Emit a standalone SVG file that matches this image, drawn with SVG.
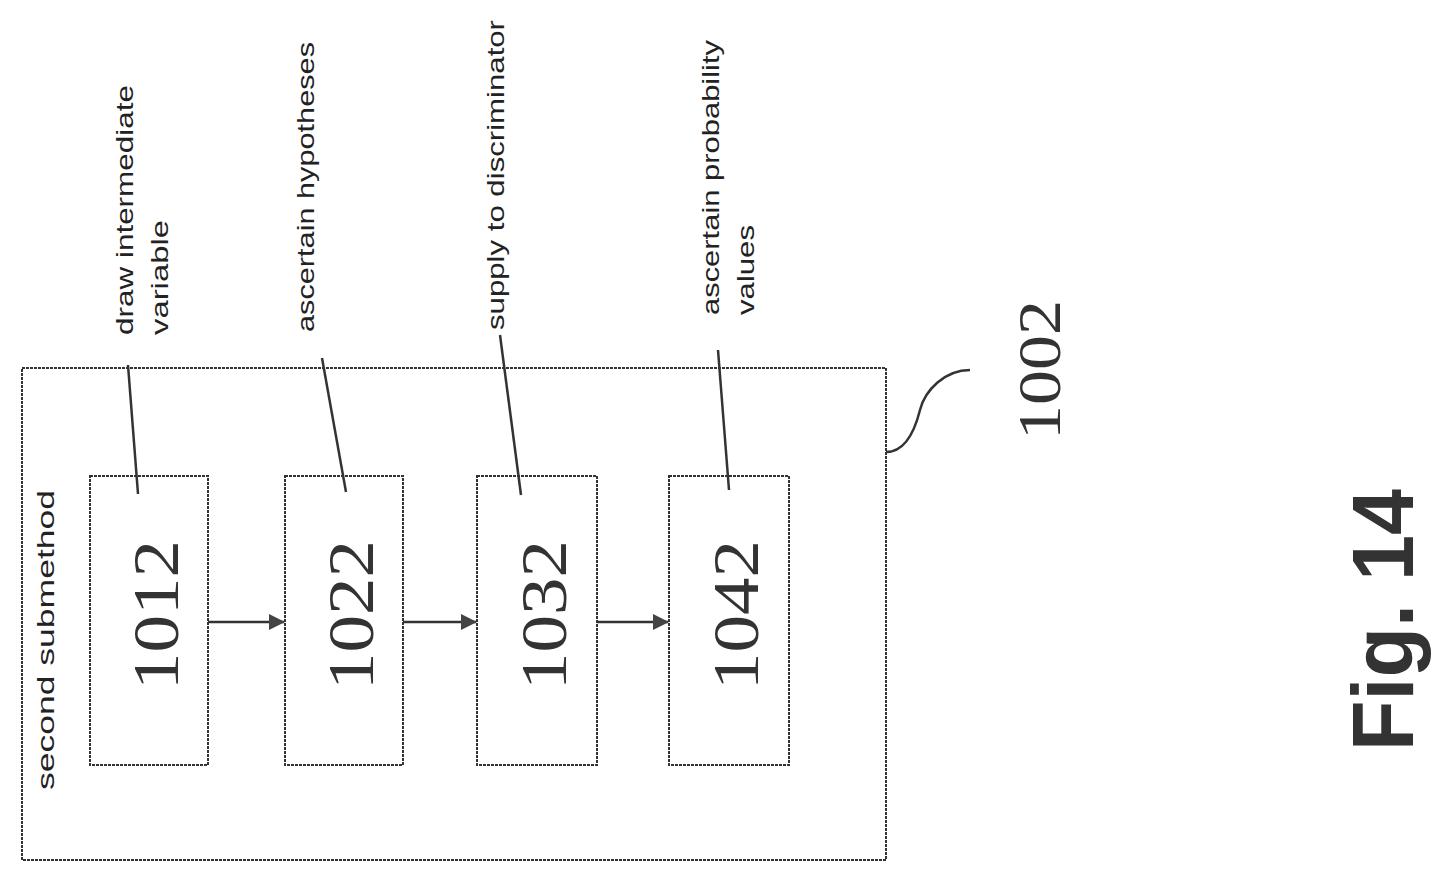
<svg xmlns="http://www.w3.org/2000/svg" width="1452" height="881" viewBox="0 0 1452 881">
<style>
.b{fill:none;stroke:#333;stroke-width:2;stroke-dasharray:3 1}
.l{fill:none;stroke:#333;stroke-width:2.5}
.s{font-family:"Liberation Sans",sans-serif;font-size:24px;fill:#222}
.n{font-family:"Liberation Serif",serif;font-size:66px;fill:#333;text-anchor:middle}
</style>
<defs><marker id="a" markerWidth="16" markerHeight="16" refX="15" refY="8" orient="auto" markerUnits="userSpaceOnUse"><path d="M0,0L16,8L0,16z" fill="#444"/></marker></defs>
<rect class="b" x="22" y="368" width="864" height="492"/>
<text class="s" transform="translate(54,790) rotate(-90)" textLength="300" lengthAdjust="spacingAndGlyphs">second submethod</text>
<g id="n1012"><rect class="b" x="90" y="476" width="118" height="289"/><text class="n" transform="translate(178,615) rotate(-90)" textLength="150" lengthAdjust="spacingAndGlyphs">1012</text></g>
<g id="n1022"><rect class="b" x="285" y="476" width="118" height="289"/><text class="n" transform="translate(373,615) rotate(-90)" textLength="150" lengthAdjust="spacingAndGlyphs">1022</text></g>
<g id="n1032"><rect class="b" x="477" y="476" width="120" height="289"/><text class="n" transform="translate(566,615) rotate(-90)" textLength="150" lengthAdjust="spacingAndGlyphs">1032</text></g>
<g id="n1042"><rect class="b" x="669" y="476" width="120" height="289"/><text class="n" transform="translate(758,615) rotate(-90)" textLength="150" lengthAdjust="spacingAndGlyphs">1042</text></g>
<g id="connectors">
<path class="l" d="M208,622H284" marker-end="url(#a)"/>
<path class="l" d="M403,622H476" marker-end="url(#a)"/>
<path class="l" d="M597,622H668" marker-end="url(#a)"/>
<path class="l" d="M138,494L128,365"/>
<path class="l" d="M346,492L322,358"/>
<path class="l" d="M521,495L500,335"/>
<path class="l" d="M729,490L718,350"/>
<path class="l" d="M886,452C905,452 915,430 920,410S945,370 970,370"/>
</g>
<text class="s" transform="translate(133,335) rotate(-90)" textLength="250" lengthAdjust="spacingAndGlyphs">draw intermediate</text>
<text class="s" transform="translate(168,335) rotate(-90)" textLength="115" lengthAdjust="spacingAndGlyphs">variable</text>
<text class="s" transform="translate(314,332) rotate(-90)" textLength="290" lengthAdjust="spacingAndGlyphs">ascertain hypotheses</text>
<text class="s" transform="translate(504,330) rotate(-90)" textLength="310" lengthAdjust="spacingAndGlyphs">supply to discriminator</text>
<text class="s" transform="translate(719,315) rotate(-90)" textLength="275" lengthAdjust="spacingAndGlyphs">ascertain probability</text>
<text class="s" transform="translate(754,315) rotate(-90)" textLength="90" lengthAdjust="spacingAndGlyphs">values</text>
<text class="n" style="font-size:62px" transform="translate(1060,370) rotate(-90)" textLength="140" lengthAdjust="spacingAndGlyphs">1002</text>
<text transform="translate(1413,620) rotate(-90)" style="font-family:'Liberation Sans',sans-serif;font-weight:bold;font-size:88px;fill:#333;text-anchor:middle" textLength="262" lengthAdjust="spacingAndGlyphs">Fig. 14</text>
</svg>
